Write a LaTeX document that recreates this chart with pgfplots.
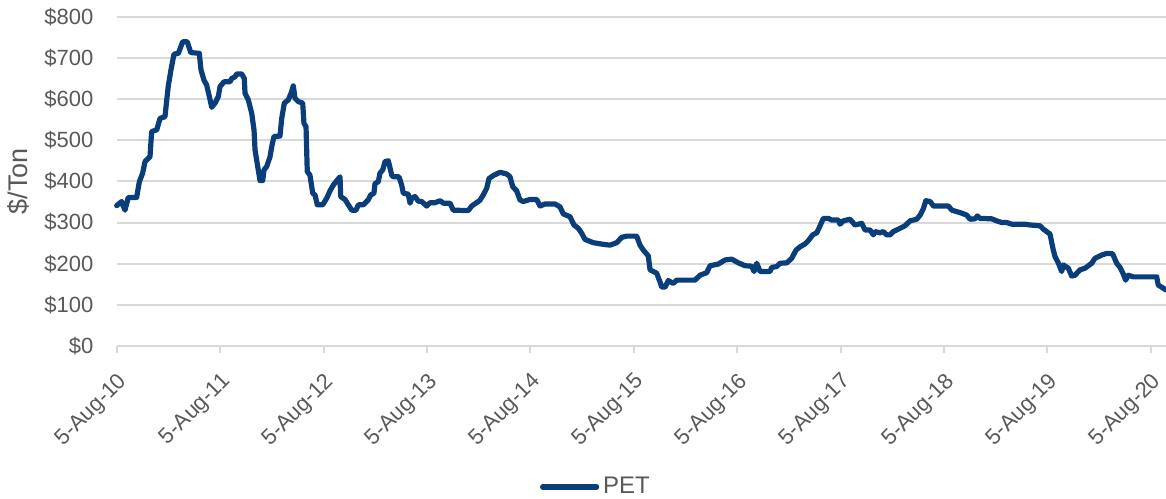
\documentclass[border=0pt]{standalone}
\usepackage{fontspec}
\setmainfont{Liberation Sans}
\usepackage{pgfplots}
\pgfplotsset{compat=1.18}
\usepackage{pgfplotstable}
\definecolor{petblue}{RGB}{10,62,122}
\definecolor{gridgray}{RGB}{217,217,217}
\definecolor{txtgray}{RGB}{89,89,89}

\pgfplotstableread{
t v
0.000 341
0.048 351
0.080 330
0.112 361
0.193 361
0.219 399
0.251 420
0.274 448
0.322 460
0.338 521
0.387 525
0.419 553
0.467 557
0.484 598
0.499 632
0.525 671
0.554 709
0.596 711
0.638 739
0.683 739
0.716 713
0.799 711
0.815 671
0.844 646
0.870 634
0.896 606
0.919 580
0.951 590
0.983 606
0.999 630
1.038 642
1.096 642
1.112 650
1.144 654
1.161 661
1.209 661
1.234 650
1.241 614
1.273 598
1.306 565
1.328 525
1.338 476
1.369 428
1.386 402
1.412 402
1.425 428
1.451 436
1.483 460
1.499 484
1.521 509
1.579 510
1.596 553
1.621 590
1.660 598
1.692 618
1.708 632
1.724 602
1.756 594
1.799 590
1.811 541
1.831 533
1.843 424
1.869 415
1.896 371
1.918 367
1.940 343
1.992 343
2.031 359
2.063 377
2.095 391
2.133 403
2.160 411
2.166 363
2.208 356
2.240 343
2.273 330
2.314 330
2.337 343
2.385 343
2.433 355
2.456 367
2.488 371
2.498 395
2.530 399
2.546 420
2.573 428
2.595 448
2.627 450
2.660 415
2.675 411
2.730 411
2.756 391
2.772 371
2.820 369
2.837 347
2.853 359
2.885 363
2.917 352
2.950 351
2.998 340
3.030 348
3.078 348
3.127 353
3.159 347
3.224 347
3.255 330
3.400 329
3.433 340
3.513 354
3.545 367
3.578 383
3.601 407
3.649 415
3.707 422
3.772 418
3.804 411
3.830 387
3.868 377
3.900 355
3.932 351
3.997 356
4.062 356
4.094 340
4.142 345
4.239 345
4.287 338
4.319 321
4.384 314
4.422 294
4.464 286
4.497 274
4.529 259
4.609 251
4.706 247
4.771 245
4.836 251
4.884 264
4.932 267
5.029 267
5.061 245
5.093 233
5.141 219
5.158 185
5.222 177
5.254 156
5.271 143
5.303 143
5.335 159
5.383 152
5.416 160
5.593 160
5.641 172
5.706 178
5.738 195
5.818 199
5.883 209
5.948 211
6.012 202
6.077 195
6.141 194
6.164 181
6.190 201
6.222 181
6.318 181
6.335 191
6.383 193
6.415 201
6.480 202
6.528 213
6.570 233
6.609 241
6.657 248
6.689 256
6.731 270
6.770 275
6.795 288
6.834 310
6.882 310
6.915 306
6.979 306
6.995 296
7.027 304
7.092 308
7.140 294
7.205 298
7.237 282
7.286 282
7.317 270
7.334 278
7.382 275
7.414 278
7.447 270
7.479 270
7.511 278
7.576 286
7.624 292
7.673 304
7.737 308
7.770 318
7.802 334
7.825 353
7.867 351
7.899 340
8.044 340
8.077 330
8.157 324
8.221 318
8.253 308
8.301 309
8.323 316
8.349 310
8.462 309
8.511 304
8.559 300
8.607 300
8.656 296
8.784 296
8.833 294
8.930 292
8.961 284
9.026 272
9.058 233
9.075 217
9.106 202
9.139 181
9.155 197
9.203 189
9.236 170
9.268 172
9.316 185
9.365 189
9.429 201
9.461 213
9.526 221
9.574 225
9.632 224
9.671 201
9.703 191
9.735 175
9.758 160
9.783 172
9.832 168
10.058 168
10.073 148
10.106 143
10.148 136
}\petdata

\begin{document}
\fontsize{11bp}{13bp}\selectfont
\begin{tikzpicture}
\useasboundingbox (-58.35bp,-76.5bp) rectangle (524.65bp,173bp);
\begin{axis}[
  at={(0,0)}, anchor=south west,
  scale only axis,
  width=524.65bp, height=164.65bp,
  xmin=0, xmax=10.148,
  ymin=0, ymax=800,
  axis x line*=bottom,
  axis y line*=left,
  x axis line style={draw=gridgray, line width=1bp},
  y axis line style={draw=none},
  ymajorgrids,
  grid style={draw=gridgray, line width=1bp},
  xtick={0,1,...,10},
  xticklabels={5-Aug-10,5-Aug-11,5-Aug-12,5-Aug-13,5-Aug-14,5-Aug-15,5-Aug-16,5-Aug-17,5-Aug-18,5-Aug-19,5-Aug-20},
  ytick={0,100,...,800},
  yticklabels={\$0,\$100,\$200,\$300,\$400,\$500,\$600,\$700,\$800},
  tick align=outside,
  xtick style={draw=gridgray, line width=1bp},
  ytick style={draw=none},
  major tick length=3.5bp,
  tick label style={font=\fontsize{11bp}{13bp}\selectfont, text=txtgray},
  xticklabel style={xshift=0bp, yshift=-9bp, rotate=45, anchor=north east, inner sep=0pt},
  yticklabel style={anchor=east, inner sep=0pt, xshift=-8bp},
  ylabel={\$/Ton},
  ylabel style={at={(axis description cs:-0.0934,0.5)}, anchor=center, font=\fontsize{13.5bp}{15bp}\selectfont, text=txtgray},
  legend style={at={(axis description cs:0.4577,-0.428)}, anchor=center, draw=none, fill=none,
    font=\fontsize{12bp}{14bp}\selectfont, text=txtgray, inner sep=0pt},
  legend cell align=left,
  legend image code/.code={\draw[#1, line cap=round] (0bp,0bp) -- (27bp,0bp);},
  clip=false,
]
\addplot[petblue, line width=2.6bp, line join=round, line cap=round] table[x=t, y=v] {\petdata};
\addlegendentry{PET}
\end{axis}
\end{tikzpicture}
\end{document}
